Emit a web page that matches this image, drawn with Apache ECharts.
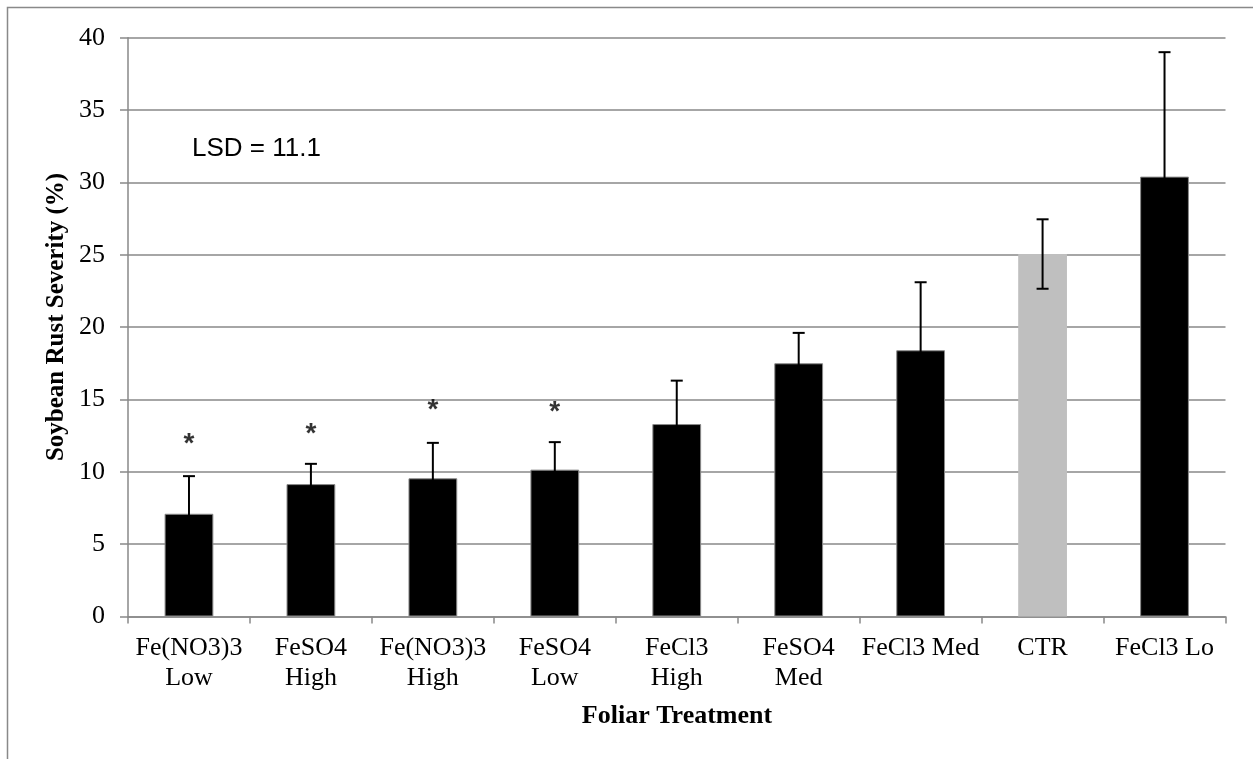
<!DOCTYPE html>
<html>
<head>
<meta charset="utf-8">
<script src="https://cdn.jsdelivr.net/npm/echarts@6/dist/echarts.min.js"></script>
<style>
html,body{margin:0;padding:0;background:#fff;}
#chart{width:1253px;height:759px;}
</style>
</head>
<body>
<div id="chart"></div>
<script>
// ---- data ----
var categories = ['Fe(NO3)3\nLow', 'FeSO4\nHigh', 'Fe(NO3)3\nHigh', 'FeSO4\nLow', 'FeCl3\nHigh', 'FeSO4\nMed', 'FeCl3 Med', 'CTR', 'FeCl3 Lo'];
var severity = [7.1, 9.15, 9.55, 10.15, 13.3, 17.5, 18.4, 25.05, 30.4];
var stdErr = [2.6, 1.4, 2.45, 1.9, 3.0, 2.1, 4.7, 2.4, 8.6];
var starCategories = [0, 1, 2, 3];
var starValues = [12.3, 13.0, 14.65, 14.5];
var yTicks = [0, 5, 10, 15, 20, 25, 30, 35, 40];
var lsdText = 'LSD = 11.1';
var xTitle = 'Foliar Treatment';
var yTitle = 'Soybean Rust Severity (%)';

var chart = echarts.init(document.getElementById('chart'), null, {renderer: 'canvas'});

var gridColor = '#898989';
var serif = '"Liberation Serif", "Times New Roman", serif';

var barData = severity.map(function (v, i) {
  var isCtr = categories[i] === 'CTR';
  return {
    value: v,
    itemStyle: isCtr
      ? {color: '#bfbfbf', borderWidth: 0}
      : {color: '#000000', borderColor: '#8a8a8a', borderWidth: 1}
  };
});

var errData = severity.map(function (v, i) {
  return [i, v - stdErr[i], v + stdErr[i]];
});

var starData = starCategories.map(function (c, i) {
  return [c, starValues[i]];
});

var option = {
  backgroundColor: '#ffffff',
  animation: false,
  grid: {left: 128, right: 27.5, top: 37.7, bottom: 142.5, containLabel: false},
  xAxis: {
    type: 'category',
    data: categories,
    boundaryGap: true,
    axisLine: {lineStyle: {color: gridColor, width: 1.5}},
    axisTick: {show: true, length: 7, lineStyle: {color: gridColor, width: 1.5}},
    axisLabel: {
      interval: 0,
      margin: 17,
      color: '#000',
      fontFamily: serif,
      fontSize: 26,
      lineHeight: 30,
      verticalAlign: 'top'
    },
    splitLine: {show: false}
  },
  yAxis: {
    type: 'value',
    min: yTicks[0],
    max: yTicks[yTicks.length - 1],
    interval: yTicks[1] - yTicks[0],
    axisLine: {show: true, lineStyle: {color: gridColor, width: 1.5}},
    axisTick: {show: true, length: 8, lineStyle: {color: gridColor, width: 1.5}},
    axisLabel: {
      margin: 23,
      color: '#000',
      fontFamily: serif,
      fontSize: 26
    },
    splitLine: {show: true, lineStyle: {color: gridColor, width: 1.5}}
  },
  series: [
    {
      type: 'bar',
      data: barData,
      barWidth: '40%',
      z: 2
    },
    {
      type: 'custom',
      z: 5,
      renderItem: function (params, api) {
        var x = api.value(0);
        var lo = api.coord([x, api.value(1)]);
        var hi = api.coord([x, api.value(2)]);
        var half = 6;
        var style = {stroke: '#000', lineWidth: 2};
        return {
          type: 'group',
          children: [
            {type: 'line', shape: {x1: hi[0], y1: hi[1], x2: lo[0], y2: lo[1]}, style: style},
            {type: 'line', shape: {x1: hi[0] - half, y1: hi[1], x2: hi[0] + half, y2: hi[1]}, style: style},
            {type: 'line', shape: {x1: lo[0] - half, y1: lo[1], x2: lo[0] + half, y2: lo[1]}, style: style}
          ]
        };
      },
      data: errData
    },
    {
      type: 'scatter',
      symbolSize: 0,
      z: 6,
      data: starData,
      label: {
        show: true,
        position: 'inside',
        formatter: '*',
        color: '#000',
        fontFamily: '"Liberation Sans", Arial, sans-serif',
        fontWeight: 'bold',
        fontSize: 28,
        offset: [0, 6]
      }
    }
  ],
  graphic: [
    {
      type: 'rect',
      shape: {x: 7.5, y: 7.5, width: 1300, height: 800},
      style: {fill: null, stroke: gridColor, lineWidth: 1.5},
      silent: true,
      z: -1
    },
    {
      type: 'text',
      left: 192,
      top: 136,
      style: {
        text: lsdText,
        fill: '#000',
        font: '26px "Liberation Sans", Arial, sans-serif'
      }
    },
    {
      type: 'text',
      x: 677,
      y: 716,
      style: {
        text: xTitle,
        fill: '#000',
        font: 'bold 26px ' + serif,
        textAlign: 'center',
        textVerticalAlign: 'middle'
      }
    },
    {
      type: 'text',
      x: 57,
      y: 317,
      rotation: Math.PI / 2,
      style: {
        text: yTitle,
        fill: '#000',
        font: 'bold 25px ' + serif,
        textAlign: 'center',
        textVerticalAlign: 'middle'
      }
    }
  ]
};

chart.setOption(option);
</script>
</body>
</html>
